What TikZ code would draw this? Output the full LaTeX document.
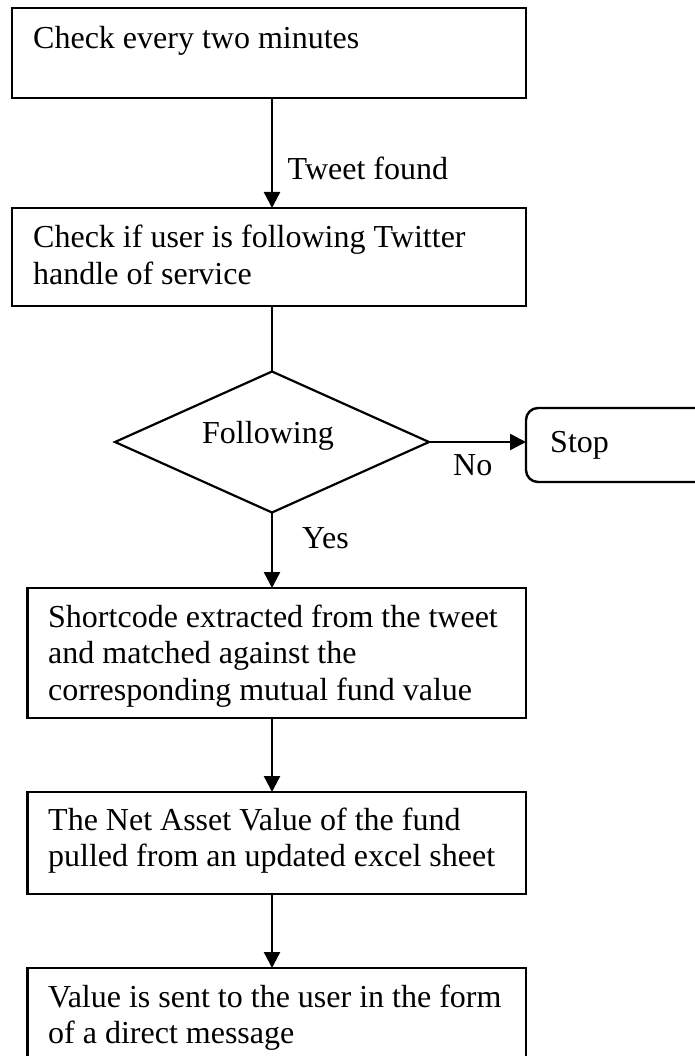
\documentclass[tikz,border=0pt]{standalone}
\usepackage{fontspec}
\setmainfont{Liberation Serif}
\usetikzlibrary{shapes.geometric,arrows.meta}
\begin{document}
\begin{tikzpicture}[x=1pt,y=-1pt,
  box/.style={draw,line width=2.4pt,rectangle,inner sep=0pt,outer sep=0pt,anchor=north west},
  txt/.style={anchor=base west,inner sep=0pt,font=\fontsize{32}{36.8}\selectfont},
  arr/.style={line width=2.4pt,-{Triangle[length=16pt,width=16pt]}},
  conn/.style={line width=2.4pt}]
\fill[white] (0,0) rectangle (695,1056);
\useasboundingbox (0,0) rectangle (695,1056);
\clip (0,0) rectangle (695,1056);
% boxes
\node[box,minimum width=514pt,minimum height=90pt] (b1) at (12,8) {};
\node[box,minimum width=514pt,minimum height=98pt] (b2) at (12,208) {};
\node[draw,diamond,line width=2.2pt,inner sep=0pt,outer sep=0pt,minimum width=314pt,minimum height=141pt] (dia) at (272,442) {};
\node[box,rounded corners=12pt,minimum width=190pt,minimum height=74pt] (stop) at (526,408) {};
\node[box,minimum width=498.5pt,minimum height=130pt] (b3) at (27.5,588) {};
\node[box,minimum width=498.5pt,minimum height=102pt] (b4) at (27.5,792) {};
\node[box,minimum width=498.5pt,minimum height=120pt] (b5) at (27.5,968) {};
% texts
\node[txt] (t1) at (33,49) {Check every two minutes};
\node[txt] (t2) at (33,248) {\begin{tabular}[t]{@{}l@{}}Check if user is following Twitter\\handle of service\end{tabular}};
\node[txt] (tf) at (202,443) {Following};
\node[txt] (ts) at (550,452) {Stop};
\node[txt] (t3) at (48,627) {\begin{tabular}[t]{@{}l@{}}Shortcode extracted from the tweet\\and matched against the\\corresponding mutual fund value\end{tabular}};
\node[txt] (t4) at (48,830) {\begin{tabular}[t]{@{}l@{}}The Net Asset Value of the fund\\pulled from an updated excel sheet\end{tabular}};
\node[txt] (t5) at (48,1007) {\begin{tabular}[t]{@{}l@{}}Value is sent to the user in the form\\of a direct message\end{tabular}};
% connectors
\draw[arr] (b1.south -| dia.north) -- (b2.north -| dia.north);
\node[txt] (ltweet) at (287.5,180) {Tweet found};
\draw[conn] (b2.south -| dia.north) -- (dia.north);
\draw[arr] (dia.east) -- (dia.east -| stop.west);
\node[txt] (lno) at (453,475) {No};
\draw[arr] (dia.south) -- (b3.north -| dia.south);
\node[txt] (lyes) at (302,548) {Yes};
\draw[arr] (b3.south -| dia.south) -- (b4.north -| dia.south);
\draw[arr] (b4.south -| dia.south) -- (b5.north -| dia.south);
\end{tikzpicture}
\end{document}
